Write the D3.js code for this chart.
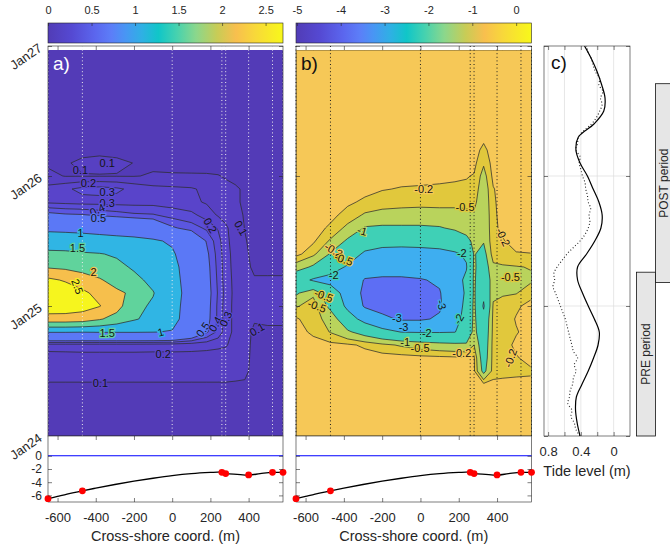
<!DOCTYPE html>
<html><head><meta charset="utf-8">
<script src="https://d3js.org/d3.v7.min.js"></script>
<style>
html,body{margin:0;padding:0;background:#fff;}
text{font-family:"Liberation Sans",Arial,Helvetica,sans-serif;}
</style></head>
<body><svg id="chart" width="670" height="548" xmlns="http://www.w3.org/2000/svg"></svg>
<script>
// ================= DATA =================
// grid nodes: cross-shore position (m) and time (days after Jan24 00:00)
const xNodes = [-650,-560,-470,-380,-290,-200,-100,0,100,180,240,280,330,380,430,500,580];
const tNodes = [0,0.1,0.2,0.3,0.4,0.5,0.6,0.7,0.8,0.9,1.0,1.1,1.2,1.3,1.4,1.5,1.6,1.7,1.8,1.9,2.0,2.1,2.2,2.3,2.4,2.5,2.6,2.7,2.8,2.9,2.97];

// panel a field (rows = times, columns = xNodes)
const levelsA = [0.1,0.2,0.3,0.4,0.5,1,1.5,2,2.5];
const gridA = [
 [.05,.05,.05,.05,.05,.05,.05,.05,.05,.05,.05,.05,.05,.05,.05,.05,.05],
 [.05,.05,.05,.05,.05,.05,.05,.05,.05,.05,.05,.05,.05,.05,.05,.05,.05],
 [.06,.06,.06,.06,.06,.06,.06,.06,.06,.06,.06,.06,.06,.06,.05,.05,.05],
 [.075,.075,.075,.075,.075,.075,.075,.075,.075,.075,.075,.075,.075,.07,.055,.05,.05],
 [.095,.095,.095,.095,.095,.095,.095,.095,.095,.095,.095,.095,.093,.09,.06,.055,.055],
 [.13,.13,.13,.13,.13,.13,.13,.13,.13,.13,.13,.13,.125,.12,.07,.06,.06],
 [.15,.155,.16,.16,.16,.16,.16,.165,.165,.16,.155,.15,.14,.12,.08,.07,.07],
 [.25,.25,.25,.25,.25,.25,.245,.24,.235,.23,.22,.21,.16,.12,.085,.08,.08],
 [1.02,1.02,1.01,1.02,1.02,1.02,1.01,.98,.75,.52,.37,.25,.17,.12,.09,.09,.09],
 [2.3,2.3,2.25,2.05,1.8,1.55,1.35,1.12,.8,.55,.38,.25,.17,.12,.105,.11,.11],
 [2.8,2.78,2.7,2.52,2.2,1.6,1.45,1.15,.8,.56,.38,.25,.17,.12,.11,.11,.115],
 [2.85,2.8,2.6,2.35,2.1,1.9,1.52,1.18,.82,.57,.39,.26,.17,.12,.11,.11,.115],
 [2.6,2.45,2.25,2.05,1.8,1.6,1.4,1.15,.8,.56,.38,.25,.17,.12,.105,.105,.105],
 [1.95,1.9,1.8,1.7,1.6,1.45,1.35,1.12,.78,.55,.37,.25,.16,.115,.09,.09,.09],
 [1.62,1.6,1.55,1.52,1.45,1.4,1.3,1.05,.75,.53,.36,.24,.16,.11,.085,.08,.08],
 [1.2,1.2,1.18,1.15,1.12,1.1,1.05,.95,.7,.49,.34,.23,.15,.105,.08,.075,.075],
 [.92,.9,.88,.85,.82,.78,.7,.52,.45,.38,.29,.22,.14,.098,.075,.07,.07],
 [.55,.52,.51,.48,.45,.42,.41,.36,.33,.25,.19,.16,.12,.095,.07,.065,.065],
 [.28,.27,.26,.26,.26,.26,.26,.25,.22,.19,.16,.13,.11,.09,.065,.06,.06],
 [.23,.28,.33,.34,.32,.27,.23,.22,.21,.18,.15,.13,.11,.09,.065,.06,.06],
 [.13,.095,.095,.095,.095,.095,.11,.11,.11,.11,.105,.09,.08,.07,.06,.05,.05],
 [.08,.09,.12,.13,.12,.098,.08,.07,.065,.06,.055,.05,.05,.05,.05,.05,.05],
 [.06,.06,.07,.075,.07,.065,.06,.055,.05,.05,.05,.05,.05,.05,.05,.05,.05],
 [.05,.05,.05,.05,.05,.05,.05,.05,.05,.05,.05,.05,.05,.05,.05,.05,.05],
 [.05,.05,.05,.05,.05,.05,.05,.05,.05,.05,.05,.05,.05,.05,.05,.05,.05],
 [.05,.05,.05,.05,.05,.05,.05,.05,.05,.05,.05,.05,.05,.05,.05,.05,.05],
 [.05,.05,.05,.05,.05,.05,.05,.05,.05,.05,.05,.05,.05,.05,.05,.05,.05],
 [.05,.05,.05,.05,.05,.05,.05,.05,.05,.05,.05,.05,.05,.05,.05,.05,.05],
 [.05,.05,.05,.05,.05,.05,.05,.05,.05,.05,.05,.05,.05,.05,.05,.05,.05],
 [.05,.05,.05,.05,.05,.05,.05,.05,.05,.05,.05,.05,.05,.05,.05,.05,.05],
 [.05,.05,.05,.05,.05,.05,.05,.05,.05,.05,.05,.05,.05,.05,.05,.05,.05]
];

// panel b field
const levelsB = [-3,-2,-1,-0.5,-0.2];
const gridB = [
 [-.05,-.05,-.05,-.05,-.05,-.05,-.05,-.05,-.05,-.05,-.05,-.05,-.05,-.05,-.05,-.05,-.05],
 [-.05,-.05,-.05,-.05,-.05,-.05,-.05,-.05,-.05,-.05,-.05,-.05,-.05,-.05,-.05,-.05,-.05],
 [-.05,-.05,-.05,-.05,-.05,-.05,-.05,-.05,-.05,-.05,-.05,-.05,-.05,-.05,-.05,-.05,-.05],
 [-.06,-.06,-.06,-.06,-.06,-.06,-.06,-.06,-.06,-.06,-.06,-.06,-.07,-.06,-.06,-.06,-.07],
 [-.08,-.08,-.08,-.08,-.08,-.08,-.08,-.08,-.08,-.08,-.08,-.1,-.15,-.12,-.12,-.13,-.15],
 [-.08,-.08,-.08,-.08,-.08,-.08,-.08,-.08,-.08,-.08,-.09,-.15,-1.2,-.35,-.3,-.26,-.23],
 [-.08,-.08,-.08,-.08,-.08,-.08,-.08,-.1,-.12,-.14,-.15,-.16,-1.4,-.35,-.32,-.22,-.12],
 [-.08,-.1,-.12,-.15,-.25,-.4,-.55,-.7,-.8,-.85,-.9,-.5,-1.5,-.35,-.3,-.15,-.1],
 [-.1,-.25,-.52,-.9,-1.3,-1.7,-2.02,-2.05,-2.05,-2.02,-1.6,-.8,-1.6,-.38,-.35,-.22,-.1],
 [-.15,-.4,-.6,-1.6,-2.3,-2.8,-3.1,-3.1,-2.9,-2.3,-1.7,-.85,-1.7,-.4,-.35,-.18,-.1],
 [-.55,-.3,-1.2,-2.2,-3.1,-3.3,-3.4,-3.4,-3.1,-2.4,-1.8,-.85,-2.1,-.45,-.35,-.25,-.1],
 [-1.1,-.6,-1.5,-2.4,-3.2,-3.4,-3.45,-3.4,-3.05,-2.4,-1.9,-.9,-1.8,-.6,-.55,-.52,-.3],
 [-1.6,-2.1,-2.3,-2.5,-3.05,-3.1,-3.1,-3.05,-2.9,-2.3,-1.85,-.9,-1.6,-.7,-.6,-.6,-.55],
 [-.7,-1.1,-1.6,-2.1,-2.6,-2.7,-2.7,-2.6,-2.5,-2.2,-2.05,-.9,-1.4,-.6,-.55,-.52,-.48],
 [-.1,-.4,-1.05,-1.5,-2.15,-2.3,-2.3,-2.25,-2.2,-2.1,-1.9,-.95,-1.25,-.3,-.25,-.22,-.21],
 [-.05,-.15,-.55,-1.1,-1.5,-1.7,-1.75,-1.75,-1.7,-1.5,-1.2,-.85,-.95,-.25,-.22,-.1,-.05],
 [-.03,-.08,-.25,-.6,-1.05,-1.1,-1.1,-1.1,-1.05,-.9,-.75,-.7,-.88,-.25,-.15,-.08,-.05],
 [-.03,-.05,-.12,-.3,-.55,-.62,-.62,-.62,-.6,-.6,-.58,-.55,-.85,-.25,-.12,-.06,-.05],
 [-.03,-.05,-.08,-.15,-.25,-.35,-.4,-.42,-.42,-.42,-.42,-.4,-.8,-.24,-.1,-.05,-.05],
 [-.03,-.04,-.05,-.08,-.12,-.18,-.22,-.23,-.24,-.25,-.26,-.3,-.75,-.22,-.08,-.05,-.05],
 [-.03,-.03,-.04,-.05,-.06,-.08,-.1,-.12,-.14,-.16,-.18,-.22,-.65,-.12,-.06,-.04,-.04],
 [-.03,-.03,-.03,-.04,-.04,-.05,-.06,-.07,-.08,-.09,-.1,-.12,-.45,-.08,-.05,-.04,-.04],
 [-.03,-.03,-.03,-.03,-.03,-.03,-.03,-.03,-.03,-.03,-.03,-.08,-.28,-.06,-.04,-.04,-.04],
 [-.03,-.03,-.03,-.03,-.03,-.03,-.03,-.03,-.03,-.03,-.03,-.05,-.12,-.04,-.03,-.03,-.03],
 [-.03,-.03,-.03,-.03,-.03,-.03,-.03,-.03,-.03,-.03,-.03,-.03,-.03,-.03,-.03,-.03,-.03],
 [-.03,-.03,-.03,-.03,-.03,-.03,-.03,-.03,-.03,-.03,-.03,-.03,-.03,-.03,-.03,-.03,-.03],
 [-.03,-.03,-.03,-.03,-.03,-.03,-.03,-.03,-.03,-.03,-.03,-.03,-.03,-.03,-.03,-.03,-.03],
 [-.03,-.03,-.03,-.03,-.03,-.03,-.03,-.03,-.03,-.03,-.03,-.03,-.03,-.03,-.03,-.03,-.03],
 [-.03,-.03,-.03,-.03,-.03,-.03,-.03,-.03,-.03,-.03,-.03,-.03,-.03,-.03,-.03,-.03,-.03],
 [-.03,-.03,-.03,-.03,-.03,-.03,-.03,-.03,-.03,-.03,-.03,-.03,-.03,-.03,-.03,-.03,-.03],
 [-.03,-.03,-.03,-.03,-.03,-.03,-.03,-.03,-.03,-.03,-.03,-.03,-.03,-.03,-.03,-.03,-.03]
];

// contour labels: [level, x (m), t (days), angle]
const labelsA = [
 [0.1,-340,2.10,0],[0.1,-480,2.05,0],[0.2,-438,1.95,0],[0.3,-340,1.88,0],[0.3,-340,1.79,0],
 [0.4,-392,1.74,-25],[0.5,-386,1.68,0],[1,-480,1.56,0],[1.5,-496,1.45,0],[2,-412,1.26,0],
 [2.5,-496,1.15,70],[0.2,200,1.62,60],[0.1,360,1.6,60],[1.5,-340,0.79,0],[1,-60,0.80,-15],
 [0.5,160,0.82,-55],[0.4,225,0.86,-60],[0.3,280,0.9,-65],[0.2,-47,0.63,0],[0.1,444,0.82,-30],[0.1,-376,0.41,0]
];
const labelsB = [
 [-0.2,17,1.90,0],[-0.5,233,1.76,0],[-1,-304,1.58,15],[-2,216,1.41,0],[-0.2,432,1.53,65],
 [-0.5,470,1.22,0],[-0.2,-453,1.43,30],[-0.5,-401,1.36,20],[-2,-453,1.24,0],[-3,-123,0.905,0],
 [-3,-88,0.84,0],[-3,111,1.01,75],[-2,33,0.79,0],[-2,200,0.9,-60],[-1,-80,0.725,0],
 [-0.5,-2,0.68,0],[-0.2,216,0.64,0],[-0.2,470,0.6,-70],[-0.5,-505,1.08,20],[-0.5,-540,1.0,20]
];

// instrument stations and bed profile
const stationX = [-650,-470,0,260,280,400,525,580];
const profileX = [-650,-600,-550,-470,-400,-300,-200,-100,0,100,200,260,280,340,400,460,525,580];
const profileZ = [-6.5,-6.15,-5.8,-5.3,-4.9,-4.35,-3.85,-3.4,-3.0,-2.7,-2.52,-2.45,-2.65,-2.8,-2.92,-2.7,-2.5,-2.5];
const sensorX = [-650,-470,260,280,400,525,580];
const sensorZ = [-6.5,-5.3,-2.5,-2.7,-2.9,-2.5,-2.5];

// tide (panel c)
const tideTime = [0,0.1,0.2,0.3,0.4,0.5,0.6,0.7,0.8,0.9,1.0,1.1,1.2,1.3,1.4,1.5,1.6,1.7,1.8,1.9,2.0,2.1,2.2,2.3,2.4,2.5,2.6,2.7,2.8,2.9,3.0];
const tideModel = [0.41,0.445,0.465,0.455,0.385,0.31,0.245,0.19,0.175,0.235,0.31,0.38,0.44,0.44,0.33,0.23,0.155,0.14,0.18,0.25,0.32,0.41,0.46,0.43,0.24,0.12,0.105,0.145,0.2,0.27,0.355];
const obsTime = [0,0.05,0.1,0.15,0.2,0.25,0.3,0.35,0.4,0.45,0.5,0.55,0.6,0.65,0.7,0.75,0.8,0.85,0.9,0.95,1.0,1.05,1.1,1.15,1.2,1.25,1.3,1.35,1.4,1.45,1.5,1.55,1.6,1.65,1.7,1.75,1.8,1.85,1.9,1.95,2.0,2.05,2.1,2.15,2.2,2.25,2.3,2.35,2.4,2.45,2.5,2.55,2.6,2.65,2.7,2.75,2.8,2.85,2.9,2.95,3.0];
const tideObs = [0.41,0.46,0.48,0.52,0.51,0.56,0.54,0.53,0.50,0.49,0.46,0.48,0.44,0.49,0.51,0.53,0.55,0.57,0.59,0.62,0.65,0.68,0.71,0.74,0.72,0.73,0.69,0.63,0.57,0.49,0.41,0.35,0.31,0.29,0.30,0.28,0.31,0.32,0.34,0.35,0.38,0.40,0.42,0.41,0.46,0.44,0.43,0.36,0.27,0.21,0.17,0.14,0.16,0.13,0.18,0.17,0.22,0.25,0.27,0.31,0.33];

// periods (days after Jan24)
const periodNames = ["PRE period","POST period"];
const periodStart = [0,1.18];
const periodEnd = [1.26,2.71];

// ticks
const dayTickValues = [0,1,2,3];
const dayTickLabels = ["Jan24","Jan25","Jan26","Jan27"];
const xTickValues = [-600,-400,-200,0,200,400];
const profileTicks = [0,-2,-4,-6];
const cbTicksA = [0,0.5,1,1.5,2,2.5];
const cbTicksB = [-5,-4,-3,-2,-1,0];
const tideTicks = [0.8,0.6,0.4,0.2,0];
const tideTickLabels = [0.8,0.4,0];

// ================= STYLE / LAYOUT =================
const INK = "#262626";
const CMAP = [[0,"#513cb6"],[0.10,"#5549d2"],[0.20,"#5b66ee"],[0.27,"#5c7ef8"],[0.33,"#4896f4"],[0.40,"#2fb0e4"],[0.47,"#10c6c8"],[0.55,"#48d2ae"],[0.63,"#8bd78c"],[0.72,"#c8cc56"],[0.80,"#f8bf4e"],[0.88,"#f8d83a"],[1,"#f8f81a"]];
const BAND_A = ["#533bb7","#5740c2","#5944ca","#5a4cd5","#5b56e0","#5b78f6","#30b5e4","#60d39c","#f6bf4c","#f6f51e"];
const BAND_B = ["#5d6ef4","#3eaef0","#3fd0b6","#b9d35c","#e1c83c","#f6c857"];
const L = {yTop:46, yBot:436, profBot:502, cbTop:23, cbBot:43, cX0:544, cX1:630};
const fmt = d => String(d);

const svg = d3.select("#chart");
const defs = svg.append("defs");
const tScale = d3.scaleLinear().domain([0,3]).range([L.yBot, L.yTop]);

const grad = defs.append("linearGradient").attr("id","cmap").attr("x1","0%").attr("x2","100%").attr("y1","0%").attr("y2","0%");
CMAP.forEach(([o,c]) => grad.append("stop").attr("offset",(o*100)+"%").attr("stop-color",c));

function cleanAxis(g){ g.select(".domain").remove(); g.selectAll("line").attr("stroke",INK).attr("stroke-width",0.6); g.selectAll("text").attr("fill",INK).style("font-family",'"Liberation Sans",Arial,sans-serif'); }

const PANELS = [
 {key:"a", x0:48, x1:283, grid:gridA, levels:levelsA, bands:BAND_A, cbDomain:[0,2.7], cbTicks:cbTicksA, stColor:"#ececec", tag:"a)", tagColor:"#ffffff", labels:labelsA, first:true},
 {key:"b", x0:296, x1:531.5, grid:gridB, levels:levelsB, bands:BAND_B, cbDomain:[-5.02,0.35], cbTicks:cbTicksB, stColor:"#1e1e1e", tag:"b)", tagColor:"#111111", labels:labelsB, first:false}
];

PANELS.forEach(P => {
  const g = svg.append("g");
  const xs = d3.scaleLinear().domain([xNodes[0], xNodes[xNodes.length-1]]).range([P.x0, P.x1]);
  const n = xNodes.length, m = tNodes.length;
  const values = P.grid.flat();
  const ix = d3.scaleLinear().domain(d3.range(n)).range(xNodes).clamp(true);
  const it = d3.scaleLinear().domain(d3.range(m)).range(tNodes).clamp(true);
  const proj = d3.geoTransform({point(x,y){ this.stream.point(xs(ix(x-0.5)), tScale(it(y-0.5))); }});
  const path = d3.geoPath(proj);
  const cs = d3.contours().size([n,m]).thresholds(P.levels)(values);
  const yDataTop = tScale(tNodes[m-1]);

  defs.append("clipPath").attr("id","clip"+P.key).append("rect")
    .attr("x",P.x0).attr("y",yDataTop).attr("width",P.x1-P.x0).attr("height",L.yBot-yDataTop);
  defs.append("clipPath").attr("id","clipL"+P.key).append("rect")
    .attr("x",P.x0+0.9).attr("y",yDataTop+0.9).attr("width",P.x1-P.x0-1.8).attr("height",L.yBot-yDataTop-1.8);

  const fg = g.append("g").attr("clip-path",`url(#clip${P.key})`);
  fg.append("rect").attr("x",P.x0).attr("y",yDataTop).attr("width",P.x1-P.x0).attr("height",L.yBot-yDataTop).attr("fill",P.bands[0]);
  fg.selectAll("path").data(cs).join("path").attr("d",path).attr("fill",(d,i)=>P.bands[i+1]).attr("stroke","none");

  const lg = g.append("g").attr("clip-path",`url(#clipL${P.key})`);
  lg.selectAll("path").data(cs).join("path").attr("d",path).attr("fill","none")
    .attr("stroke","#2d2d2d").attr("stroke-width",0.75).attr("stroke-linejoin","round");

  // station lines
  g.selectAll("line.st").data(stationX).join("line").attr("class","st")
    .attr("x1",d=>xs(d)).attr("x2",d=>xs(d)).attr("y1",L.yTop).attr("y2",L.yBot)
    .attr("stroke",P.stColor).attr("stroke-width",1).attr("stroke-dasharray","1,2.6");

  // contour labels
  g.selectAll("text.cl").data(P.labels).join("text").attr("class","cl")
    .attr("transform",d=>`translate(${xs(d[1])},${tScale(d[2])}) rotate(${d[3]})`)
    .attr("text-anchor","middle").attr("dominant-baseline","central")
    .attr("font-size",11).attr("fill","#151515")
    .attr("stroke",d=>P.bands[P.levels.indexOf(d[0])+1]).attr("stroke-width",2.4).attr("paint-order","stroke")
    .text(d=>fmt(d[0]));

  // box + ticks for contour panel
  g.append("rect").attr("x",P.x0).attr("y",L.yTop).attr("width",P.x1-P.x0).attr("height",L.yBot-L.yTop)
    .attr("fill","none").attr("stroke",INK).attr("stroke-width",0.6);
  const top = g.append("g").attr("transform",`translate(0,${L.yTop})`).call(d3.axisTop(xs).tickValues(xTickValues).tickSize(-4).tickFormat(""));
  cleanAxis(top);
  const lft = g.append("g").attr("transform",`translate(${P.x0},0)`).call(d3.axisLeft(tScale).tickValues(dayTickValues).tickSize(-4).tickFormat(""));
  cleanAxis(lft);
  const rgt = g.append("g").attr("transform",`translate(${P.x1},0)`).call(d3.axisRight(tScale).tickValues(dayTickValues).tickSize(-4).tickFormat(""));
  cleanAxis(rgt);

  g.append("text").attr("x",P.x0+5).attr("y",70).attr("font-size",19).attr("fill",P.tagColor).text(P.tag);

  if (P.first) {
    g.selectAll("text.day").data(dayTickValues).join("text").attr("class","day")
      .attr("transform",(d)=>`translate(${P.x0-5},${tScale(d)+4}) rotate(-35)`)
      .attr("text-anchor","end").attr("font-size",13).attr("fill",INK)
      .text((d,i)=>dayTickLabels[i]);
  }

  // colorbar
  const cb = d3.scaleLinear().domain(P.cbDomain).range([P.x0,P.x1]);
  const cg = svg.append("g");
  cg.append("rect").attr("x",P.x0).attr("y",L.cbTop).attr("width",P.x1-P.x0).attr("height",L.cbBot-L.cbTop)
    .attr("fill","url(#cmap)").attr("stroke",INK).attr("stroke-width",0.6);
  const cax = cg.append("g").attr("transform",`translate(0,${L.cbTop})`).call(d3.axisTop(cb).tickValues(P.cbTicks).tickSize(-3).tickPadding(9).tickFormat(fmt));
  cleanAxis(cax);
  cax.selectAll("text").attr("font-size",11);

  // profile panel
  const zs = d3.scaleLinear().domain([-7,3]).range([L.profBot, L.yBot]);
  const pg = svg.append("g");
  pg.append("rect").attr("x",P.x0).attr("y",L.yBot).attr("width",P.x1-P.x0).attr("height",L.profBot-L.yBot)
    .attr("fill","#fff").attr("stroke",INK).attr("stroke-width",0.6);
  pg.append("line").attr("x1",xs(xNodes[0])).attr("x2",xs(xNodes[n-1])).attr("y1",zs(0)).attr("y2",zs(0))
    .attr("stroke","#0000ff").attr("stroke-width",1.1);
  const prof = profileX.map((x,i)=>[x,profileZ[i]]);
  pg.append("path").datum(prof).attr("d",d3.line().x(d=>xs(d[0])).y(d=>zs(d[1])).curve(d3.curveMonotoneX))
    .attr("fill","none").attr("stroke","#000").attr("stroke-width",1.3);
  pg.selectAll("circle").data(sensorX.map((x,i)=>[x,sensorZ[i]])).join("circle")
    .attr("cx",d=>xs(d[0])).attr("cy",d=>zs(d[1])).attr("r",3.4).attr("fill","#ff0000");
  const bx = pg.append("g").attr("transform",`translate(0,${L.profBot})`).call(d3.axisBottom(xs).tickValues(xTickValues).tickSize(-4).tickPadding(11).tickFormat(fmt));
  cleanAxis(bx); bx.selectAll("text").attr("font-size",13);
  const tx = pg.append("g").attr("transform",`translate(0,${L.yBot})`).call(d3.axisTop(xs).tickValues(xTickValues).tickSize(-4).tickFormat(""));
  cleanAxis(tx);
  const ly = pg.append("g").attr("transform",`translate(${P.x0},0)`).call(d3.axisLeft(zs).tickValues(profileTicks).tickSize(-4).tickPadding(6).tickFormat(P.first ? fmt : ""));
  cleanAxis(ly); ly.selectAll("text").attr("font-size",12);
  const ry = pg.append("g").attr("transform",`translate(${P.x1},0)`).call(d3.axisRight(zs).tickValues(profileTicks).tickSize(-4).tickFormat(""));
  cleanAxis(ry);
  pg.append("text").attr("x",(P.x0+P.x1)/2).attr("y",541).attr("text-anchor","middle").attr("font-size",14.5).attr("fill",INK).text("Cross-shore coord. (m)");
});

// ================= PANEL C =================
const tideX = d3.scaleLinear().domain([0.85,-0.2]).range([L.cX0, L.cX1]);
const cgp = svg.append("g");
cgp.append("rect").attr("x",L.cX0).attr("y",L.yTop).attr("width",L.cX1-L.cX0).attr("height",L.yBot-L.yTop).attr("fill","#fff");
cgp.selectAll("line.vg").data(tideTicks).join("line").attr("class","vg")
  .attr("x1",d=>tideX(d)).attr("x2",d=>tideX(d)).attr("y1",L.yTop).attr("y2",L.yBot)
  .attr("stroke","#dcdcdc").attr("stroke-width",0.7);
cgp.selectAll("line.hg").data([1,2]).join("line").attr("class","hg")
  .attr("x1",L.cX0).attr("x2",L.cX1).attr("y1",d=>tScale(d)).attr("y2",d=>tScale(d))
  .attr("stroke","#dcdcdc").attr("stroke-width",0.7);
defs.append("clipPath").attr("id","clipC").append("rect").attr("x",L.cX0).attr("y",L.yTop).attr("width",L.cX1-L.cX0).attr("height",L.yBot-L.yTop);
const cl = cgp.append("g").attr("clip-path","url(#clipC)");
cl.append("path").datum(obsTime.map((t,i)=>[t,tideObs[i]]))
  .attr("d",d3.line().x(d=>tideX(d[1])).y(d=>tScale(d[0])).curve(d3.curveCatmullRom))
  .attr("fill","none").attr("stroke","#222").attr("stroke-width",1.1).attr("stroke-dasharray","1,2.2");
cl.append("path").datum(tideTime.map((t,i)=>[t,tideModel[i]]))
  .attr("d",d3.line().x(d=>tideX(d[1])).y(d=>tScale(d[0])).curve(d3.curveCatmullRom))
  .attr("fill","none").attr("stroke","#000").attr("stroke-width",1.2);
cgp.append("rect").attr("x",L.cX0).attr("y",L.yTop).attr("width",L.cX1-L.cX0).attr("height",L.yBot-L.yTop)
  .attr("fill","none").attr("stroke",INK).attr("stroke-width",0.6);
const cbx = cgp.append("g").attr("transform",`translate(0,${L.yBot})`).call(d3.axisBottom(tideX).tickValues(tideTicks).tickSize(-4).tickPadding(11).tickFormat(d=>tideTickLabels.includes(d)?fmt(d):""));
cleanAxis(cbx); cbx.selectAll("text").attr("font-size",13);
const ctx = cgp.append("g").attr("transform",`translate(0,${L.yTop})`).call(d3.axisTop(tideX).tickValues(tideTicks).tickSize(-4).tickFormat(""));
cleanAxis(ctx);
const cly = cgp.append("g").attr("transform",`translate(${L.cX0},0)`).call(d3.axisLeft(tScale).tickValues(dayTickValues).tickSize(-4).tickFormat(""));
cleanAxis(cly);
const cry = cgp.append("g").attr("transform",`translate(${L.cX1},0)`).call(d3.axisRight(tScale).tickValues(dayTickValues).tickSize(-4).tickFormat(""));
cleanAxis(cry);
cgp.append("text").attr("x",L.cX0+7).attr("y",69).attr("font-size",19).attr("fill","#111").text("c)");
cgp.append("text").attr("x",(L.cX0+L.cX1)/2).attr("y",476).attr("text-anchor","middle").attr("font-size",14.5).attr("fill",INK).text("Tide level (m)");

// periods
const perX = [[636.5,655.5],[655.5,676]];
const perTextX = [646, 663.5];
const pg2 = svg.append("g");
periodNames.forEach((name,i) => {
  const y0 = tScale(periodEnd[i]), y1 = tScale(periodStart[i]);
  pg2.append("rect").attr("x",perX[i][0]).attr("y",y0).attr("width",perX[i][1]-perX[i][0]).attr("height",y1-y0)
    .attr("fill","#e6e6e6").attr("stroke","#111").attr("stroke-width",0.8);
  const cy = (y0+y1)/2;
  pg2.append("text").attr("transform",`translate(${perTextX[i]},${cy}) rotate(-90)`).attr("text-anchor","middle")
    .attr("dominant-baseline","central").attr("font-size",12).attr("fill",INK).text(name);
});
</script>
</body></html>
